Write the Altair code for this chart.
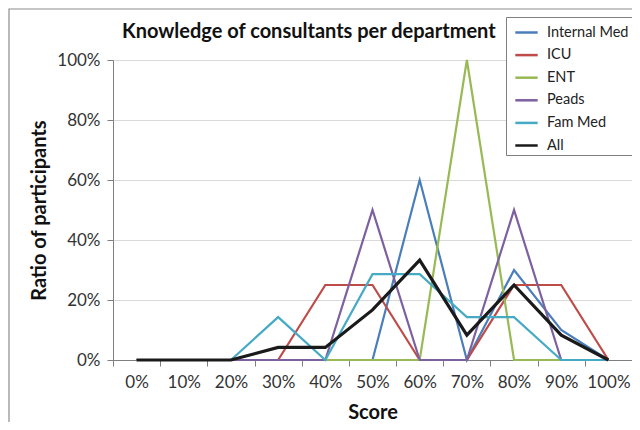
import altair as alt
import pandas as pd

scores = ["0%", "10%", "20%", "30%", "40%", "50%", "60%", "70%", "80%", "90%", "100%"]
internal_med = [0, 0, 0, 0, 0, 0, 0.60, 0, 0.30, 0.10, 0]
icu = [0, 0, 0, 0, 0.25, 0.25, 0, 0, 0.25, 0.25, 0]
ent = [0, 0, 0, 0, 0, 0, 0, 1.00, 0, 0, 0]
peads = [0, 0, 0, 0, 0, 0.50, 0, 0, 0.50, 0, 0]
fam_med = [0, 0, 0, 0.143, 0, 0.286, 0.286, 0.143, 0.143, 0, 0]
all_depts = [0, 0, 0, 0.042, 0.042, 0.167, 0.333, 0.083, 0.25, 0.083, 0]

series_names = ["Internal Med", "ICU", "ENT", "Peads", "Fam Med", "All"]
series_values = [internal_med, icu, ent, peads, fam_med, all_depts]
colors = ["#4a7ebb", "#be4b48", "#98b954", "#7d60a0", "#46aac5", "#1a1a1a"]
chart_title = "Knowledge of consultants per department"

rows = []
for name, vals in zip(series_names, series_values):
    for s, v in zip(scores, vals):
        rows.append({"series": name, "score": s, "ratio": v})
df = pd.DataFrame(rows)

FONT = "Lato"
W, H = 519, 300

x_enc = alt.X(
    "score:N", sort=scores, bandPosition=0.5,
    scale=alt.Scale(type="band", paddingInner=0, paddingOuter=0),
    axis=alt.Axis(title="Score", tickBand="extent", labelAngle=0, grid=False,
                  labelFontSize=17, labelPadding=8, titlePadding=12, tickSize=6),
)
y_enc = alt.Y(
    "ratio:Q", scale=alt.Scale(domain=[0, 1]),
    axis=alt.Axis(title="Ratio of participants", format="%", values=[0, 0.2, 0.4, 0.6, 0.8, 1.0],
                  labelFontSize=17, labelPadding=7, titlePadding=7, tickSize=6,
                  grid=True, gridColor="#d9d9d9"),
)
color_enc = alt.Color(
    "series:N",
    scale=alt.Scale(domain=series_names, range=colors),
    legend=alt.Legend(title=None, orient="none", legendX=393, legendY=-43,
                      symbolType="stroke", symbolSize=500, symbolStrokeWidth=2.5,
                      symbolOffset=5, labelOffset=8,
                      labelFontSize=14.5, rowPadding=3.6, padding=3,
                      strokeColor="#7f7f7f", fillColor="white", labelColor="#222"),
)

depts = alt.Chart(df).transform_filter(alt.datum.series != "All").mark_line(strokeWidth=2.2).encode(
    x=x_enc, y=y_enc, color=color_enc)
allline = alt.Chart(df).transform_filter(alt.datum.series == "All").mark_line(strokeWidth=3.2).encode(
    x=x_enc, y=y_enc, color=color_enc)

frame = alt.Chart(pd.DataFrame({"a": [0]})).mark_rect(
    fillOpacity=0, stroke="#8c8c8c", strokeWidth=1.2, clip=False
).encode(x=alt.value(-104), x2=alt.value(W + 40), y=alt.value(-51), y2=alt.value(H + 90))

title = alt.Chart(pd.DataFrame({"t": [chart_title]})).mark_text(
    align="left", baseline="alphabetic", font=FONT, fontSize=20, fontWeight="bold",
    color="#111", clip=False
).encode(text="t:N", x=alt.value(9), y=alt.value(-22))

chart = alt.layer(frame, depts, allline, title).properties(
    width=W, height=H,
    autosize=alt.AutoSizeParams(type="none"),
    padding={"left": 105, "top": 52, "right": 0, "bottom": 62},
).configure(font=FONT).configure_axis(
    domainColor="#7f7f7f", tickColor="#7f7f7f", labelColor="#333", titleColor="#111",
    titleFontSize=20, titleFontWeight="bold", labelFont=FONT, titleFont=FONT,
).configure_view(stroke=None).configure_legend(labelFont=FONT)

chart.save("out.html", embed_options={"renderer": "svg", "actions": False})
